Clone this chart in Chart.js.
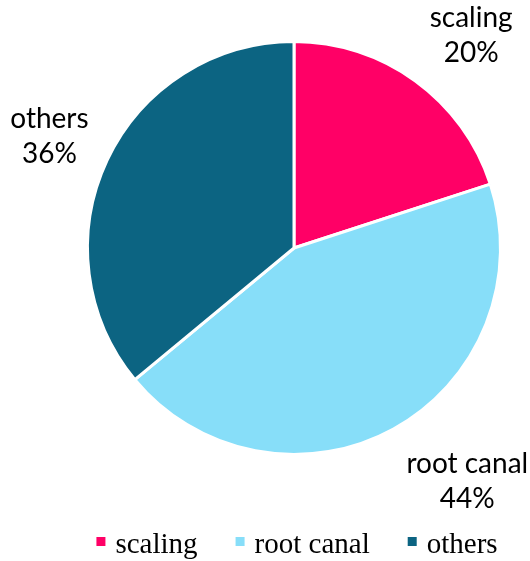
<!DOCTYPE html>
<html>
<head>
<meta charset="utf-8">
<style>
  html, body { margin: 0; padding: 0; background: #ffffff; }
  #wrap { width: 530px; height: 561px; position: relative; }
</style>
<script src="https://cdn.jsdelivr.net/npm/chart.js@4/dist/chart.umd.min.js"></script>
</head>
<body>
<div id="wrap"><canvas id="pie" width="530" height="561"></canvas></div>
<script>
// Treatment mix (percent of cases)
const categories = ['scaling', 'root canal', 'others'];
const shares = [20, 44, 36];
const sliceColors = ['#FF0066', '#87DEF9', '#0C6482'];

// Outside label placement: distance beyond the rim plus a small per-label nudge
const labelGap = 66;
const labelNudge = [[17, -1], [42, -14], [2, -4]];
const labelLineStep = 35;

const outsideLabels = {
  id: 'outsideLabels',
  afterDatasetsDraw(chart) {
    const ctx = chart.ctx;
    const meta = chart.getDatasetMeta(0);
    ctx.save();
    ctx.font = '28px Lato';
    ctx.fillStyle = '#000000';
    ctx.textAlign = 'center';
    ctx.textBaseline = 'alphabetic';
    meta.data.forEach((arc, i) => {
      const p = arc.getProps(['x', 'y', 'startAngle', 'endAngle', 'outerRadius'], true);
      const mid = (p.startAngle + p.endAngle) / 2;
      const d = p.outerRadius + labelGap;
      const x = p.x + Math.cos(mid) * d + labelNudge[i][0];
      const y = p.y + Math.sin(mid) * d + labelNudge[i][1];
      ctx.fillText(categories[i], x, y);
      ctx.fillText(shares[i] + '%', x, y + labelLineStep);
    });
    ctx.restore();
  }
};

// Legend row under the pie: square swatch + serif label
const bottomLegend = {
  id: 'bottomLegend',
  afterDraw(chart) {
    const ctx = chart.ctx;
    const box = 9, gapText = 10, gapItem = 38;
    ctx.save();
    ctx.font = '29px "Liberation Serif"';
    ctx.textBaseline = 'alphabetic';
    ctx.textAlign = 'left';
    const widths = categories.map(c => ctx.measureText(c).width);
    let total = 0;
    widths.forEach((w, i) => { total += box + gapText + w + (i < widths.length - 1 ? gapItem : 0); });
    const cx = (chart.chartArea.left + chart.chartArea.right) / 2 + 3;
    let x = cx - total / 2;
    const baseline = 553;
    categories.forEach((c, i) => {
      ctx.fillStyle = sliceColors[i];
      ctx.fillRect(x, baseline - 16, box, box);
      ctx.fillStyle = '#000000';
      ctx.fillText(c, x + box + gapText, baseline);
      x += box + gapText + widths[i] + gapItem;
    });
    ctx.restore();
  }
};

new Chart(document.getElementById('pie'), {
  type: 'pie',
  data: {
    labels: categories,
    datasets: [{
      data: shares,
      backgroundColor: sliceColors,
      borderColor: '#ffffff',
      borderWidth: 3,
      hoverOffset: 0
    }]
  },
  options: {
    responsive: false,
    animation: false,
    layout: { padding: { left: 86, right: 28, top: 40, bottom: 105 } },
    plugins: {
      legend: { display: false },
      tooltip: { enabled: false }
    }
  },
  plugins: [outsideLabels, bottomLegend]
});
</script>
</body>
</html>
